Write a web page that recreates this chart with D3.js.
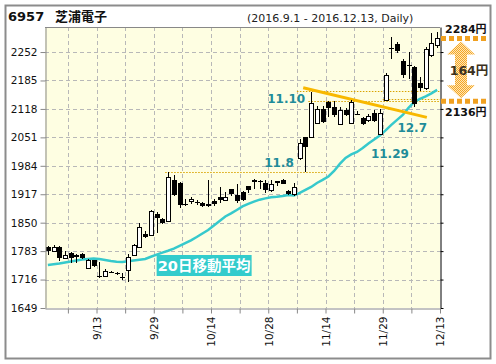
<!DOCTYPE html>
<html><head><meta charset="utf-8">
<script src="https://cdn.jsdelivr.net/npm/d3@7"></script>
<style>body{margin:0;background:#fff}svg{display:block}</style>
</head><body>
<svg id="c" width="496" height="364"></svg>
<script>
const dates = ["9/1","9/2","9/5","9/6","9/7","9/8","9/9","9/12","9/13","9/14","9/15","9/16","9/20","9/21","9/23","9/26","9/27","9/28","9/29","9/30",
"10/3","10/4","10/5","10/6","10/7","10/11","10/12","10/13","10/14","10/17","10/18","10/19","10/20","10/21","10/24","10/25","10/26","10/27","10/28","10/31",
"11/1","11/2","11/4","11/7","11/8","11/9","11/10","11/11","11/14","11/15","11/16","11/17","11/18","11/21","11/22","11/24","11/25","11/28","11/29","11/30",
"12/1","12/2","12/5","12/6","12/7","12/8","12/9","12/12","12/13"];
const opens  = [1792,1782,1792,1766,1779,1774,1776,1743,1762,1724,1725,1734,1732,1721,1740,1774,1795,1823,1821,1870,
1859,1854,1951,1943,1895,1901,1899,1896,1893,1900,1911,1903,1929,1915,1922,1936,1951,1949,1943,1927,
1948,1951,1925,1919,2003,2051,2053,2084,2117,2135,2122,2084,2115,2086,2106,2096,2092,2109,2060,2141,
2262,2270,2230,2222,2217,2178,2166,2245,2268];
const highs  = [1795,1797,1794,1784,1782,1776,1778,1764,1763,1758,1740,1737,1734,1732,1776,1800,1850,1830,1880,1876,
1861,1970,1962,1945,1906,1910,1903,1899,1951,1905,1935,1923,1930,1941,1924,1937,1952,1950,1951,1951,
1949,1952,1928,1943,2046,2053,2159,2125,2124,2137,2136,2123,2119,2140,2113,2100,2105,2115,2117,2202,
2287,2275,2235,2252,2220,2193,2264,2297,2300];
const lows   = [1775,1780,1760,1764,1756,1754,1764,1741,1745,1720,1724,1731,1726,1716,1711,1772,1793,1815,1819,1825,
1847,1852,1913,1884,1889,1895,1892,1886,1887,1889,1896,1900,1913,1897,1901,1920,1929,1929,1919,1922,
1937,1940,1916,1912,1998,1970,2050,2082,2084,2100,2098,2082,2102,2084,2105,2081,2088,2087,2058,2136,
2236,2250,2190,2189,2123,2160,2162,2240,2262];
const closes = [1782,1792,1766,1774,1767,1770,1766,1762,1749,1721,1736,1733,1731,1718,1770,1797,1841,1817,1878,1860,
1849,1958,1915,1892,1893,1905,1897,1888,1888,1892,1905,1910,1917,1900,1903,1927,1947,1948,1927,1941,
1944,1941,1919,1935,2038,2028,2133,2117,2086,2122,2104,2116,2104,2135,2105,2083,2101,2090,2109,2199,
2261,2254,2197,2220,2130,2166,2259,2274,2285];
const ma20 = [1750.3,1752,1753.9,1756.2,1758.6,1761,1763.3,1764.5,1765.7,1764.5,1762.1,1759.8,1758.1,1757.4,1759.1,1760.9,1762.8,1764.5,1769.7,1774.8,
1779.6,1784,1788.8,1795.1,1801.7,1808.5,1816.3,1824.6,1832.8,1843.4,1854,1864.6,1871.9,1880,1888.4,1894.1,1899.5,1904.2,1907.3,1909.7,
1911.1,1913,1915.3,1914.1,1920,1927.1,1934.2,1943.6,1950.7,1958.9,1971.9,1988.4,2002.5,2010.8,2016.6,2026.1,2036.7,2046.1,2055.5,2067.3,
2080.3,2092.1,2103.8,2120.3,2134.5,2141.5,2147.4,2154.5,2162.8];
const yTicks = [1649,1716,1783,1850,1917,1984,2051,2118,2185,2252];
const xTickLabels = ["9/13","9/29","10/14","10/28","11/14","11/29","12/13"];
const noteLabels = ["11.8","11.10","11.29","12.7"];
const noteDates  = ["11/8","11/10","11/29","12/7"];
const notePrices = [1981,2132,2002,2064];
const levelPrices = [1970,2160,2136,2141];
const levelFrom   = ["10/4","11/8","11/10","11/30"];
const levelTo     = ["11/14","12/13","12/13","12/13"];
const trendDates  = ["11/8","12/9"];
const trendPrices = [2168,2098];
const markPrices  = [2284,2136];
const markLabels  = ["2284円","2136円"];
const rangeLabel  = "164円";

const svg = d3.select("#c");
const L = 45, R = 440, T = 27, B = 308;
const n = dates.length;
const x = d3.scaleLinear().domain([-0.5, n - 0.5]).range([L, R]);
const y = d3.scaleLinear().domain([1649, 2311]).range([B, T]);
const idx = d => dates.indexOf(d);

// outer frame
svg.append("rect").attr("x",5.5).attr("y",5.5).attr("width",485).attr("height",353)
  .attr("fill","#fff").attr("stroke","#8c8c8c").attr("stroke-width",2);

// title
svg.append("text").attr("x",8).attr("y",21).attr("font-family","DejaVu Sans, Noto Sans CJK JP")
  .attr("font-weight","bold").attr("font-size",13).attr("fill","#111").text("6957");
svg.append("text").attr("x",55).attr("y",21).attr("font-family","Noto Sans CJK JP")
  .attr("font-weight","bold").attr("font-size",13).attr("fill","#111").text("芝浦電子");
svg.append("text").attr("x",247).attr("y",22).attr("font-family","DejaVu Sans")
  .attr("font-size",11).attr("fill","#222").text("(2016.9.1 - 2016.12.13, Daily)");

// plot background
svg.append("rect").attr("x",L).attr("y",T).attr("width",R-L).attr("height",B-T).attr("fill","#fefee2");

// grid
const grid = svg.append("g").attr("stroke","#b8b8b8").attr("stroke-dasharray","4,3").attr("shape-rendering","crispEdges");
yTicks.filter(v => v > 1649).forEach(v => {
  grid.append("line").attr("x1",L).attr("x2",R).attr("y1",Math.round(y(v))+0.5).attr("y2",Math.round(y(v))+0.5);
});
const gridIdx = d3.range(3, n, 5);
gridIdx.filter(i => i < n-1).forEach(i => {
  const gx = Math.round(x(i+0.5))+0.5;
  grid.append("line").attr("x1",gx).attr("x2",gx).attr("y1",T).attr("y2",B);
});

// reference dotted levels
const lv = svg.append("g").attr("stroke","#d9a300").attr("stroke-width",1).attr("stroke-dasharray","1.5,1.5");
levelPrices.forEach((p,k) => {
  const x1 = x(idx(levelFrom[k]) - 0.5), x2 = levelTo[k] === dates[n-1] ? R : x(idx(levelTo[k]) + 0.5);
  lv.append("line").attr("x1",x1).attr("x2",x2).attr("y1",Math.round(y(p))+0.5).attr("y2",Math.round(y(p))+0.5);
});

// MA line
svg.append("path").datum(ma20).attr("fill","none").attr("stroke","#36c9cc").attr("stroke-width",2.5)
  .attr("d", d3.line().x((d,i)=>x(i)).y(d=>y(d)));

// trend line
svg.append("line").attr("x1",x(idx(trendDates[0])+0.6)).attr("y1",y(trendPrices[0]))
  .attr("x2",x(idx(trendDates[1])+0.2)).attr("y2",y(trendPrices[1]))
  .attr("stroke","#f8b800").attr("stroke-width",3);

// candles
const cg = svg.append("g").attr("shape-rendering","crispEdges");
dates.forEach((d,i) => {
  const cx = Math.round(x(i));
  cg.append("line").attr("x1",cx+0.5).attr("x2",cx+0.5).attr("y1",y(highs[i])).attr("y2",y(lows[i]))
    .attr("stroke","#000").attr("stroke-width",1);
  const top = y(Math.max(opens[i],closes[i])), bot = y(Math.min(opens[i],closes[i]));
  const up = closes[i] > opens[i];
  const h = Math.max(1, bot - top);
  if (up) {
    cg.append("rect").attr("x",cx-1.5).attr("y",Math.round(top)+0.5).attr("width",4).attr("height",Math.max(1,Math.round(h)))
      .attr("fill","#fff").attr("stroke","#000").attr("stroke-width",1);
  } else {
    cg.append("rect").attr("x",cx-2).attr("y",Math.round(top)).attr("width",5).attr("height",Math.max(1,Math.round(h)))
      .attr("fill","#000");
  }
});

// axes
const axL = svg.append("g").attr("transform",`translate(${L+0.5},0)`)
  .call(d3.axisLeft(y).tickValues(yTicks).tickSize(5).tickSizeOuter(0).tickPadding(3).tickFormat(d3.format("d")));
axL.select(".domain").attr("stroke","#888");
axL.selectAll(".tick line").attr("stroke","#888");
axL.selectAll("text").attr("font-family","DejaVu Sans").attr("font-size",10.5).attr("fill","#111");

const axR = svg.append("g").attr("transform",`translate(${R+0.5},0)`)
  .call(d3.axisRight(y).tickValues(yTicks).tickSize(3).tickSizeOuter(0).tickFormat(""));
axR.select(".domain").attr("stroke","#000");
axR.selectAll(".tick line").attr("stroke","#000");

svg.append("line").attr("x1",L).attr("x2",R).attr("y1",T+0.5).attr("y2",T+0.5).attr("stroke","#888");

const axB = svg.append("g").attr("transform",`translate(0,${B+0.5})`)
  .call(d3.axisBottom(x).tickValues(gridIdx.map(i=>i+0.5)).tickSize(5).tickSizeOuter(0)
    .tickFormat(v => { const d = dates[Math.round(v-0.5)]; return xTickLabels.includes(d) ? d : ""; }));
axB.select(".domain").attr("stroke","#888");
axB.selectAll(".tick line").attr("stroke","#888");
axB.selectAll("text").attr("font-family","DejaVu Sans").attr("font-size",10.5).attr("fill","#111")
  .attr("text-anchor","end").attr("transform","rotate(-90)").attr("x",-8).attr("y",0).attr("dy","0.36em");

// MA label box
svg.append("rect").attr("x",x(idx("9/30"))).attr("y",255).attr("width",95).attr("height",21).attr("fill","#33cccc");
svg.append("text").attr("x",x(idx("9/30"))+47.5).attr("y",271).attr("text-anchor","middle")
  .attr("font-family","DejaVu Sans, Noto Sans CJK JP").attr("font-weight","bold").attr("font-size",14.5)
  .attr("fill","#fff").text("20日移動平均");

// date notes
const noteDx = [-6,-6,10,-2], noteAnchor = ["end","end","middle","middle"];
noteLabels.forEach((t,k) => {
  svg.append("text").attr("x",x(idx(noteDates[k]))+noteDx[k]).attr("y",y(notePrices[k]))
    .attr("text-anchor",noteAnchor[k]).attr("font-family","DejaVu Sans").attr("font-weight","bold")
    .attr("font-size",12).attr("fill","#1f8c99").text(t);
});

// right-side range annotation
const defs = svg.append("defs");
const pat = defs.append("pattern").attr("id","chk").attr("width",2).attr("height",2).attr("patternUnits","userSpaceOnUse");
pat.append("rect").attr("width",2).attr("height",2).attr("fill","#f5a623");
pat.append("rect").attr("x",1).attr("y",0).attr("width",1).attr("height",1).attr("fill","#fde6b8");
pat.append("rect").attr("x",0).attr("y",1).attr("width",1).attr("height",1).attr("fill","#fde6b8");

const yTop = y(markPrices[0]), yBot = y(markPrices[1]);
markPrices.forEach(p => {
  svg.append("line").attr("x1",R+1).attr("x2",486).attr("y1",y(p)).attr("y2",y(p))
    .attr("stroke","#f0a020").attr("stroke-width",5).attr("stroke-dasharray","5,3");
});
const ax0 = 461, hw = 14, sw = 6, hh = 13;
const a1 = yTop + 3, a2 = yBot - 3;
svg.append("path").attr("fill","url(#chk)").attr("d",
  `M${ax0},${a1} L${ax0+hw},${a1+hh} L${ax0+sw},${a1+hh} L${ax0+sw},${a2-hh} L${ax0+hw},${a2-hh} L${ax0},${a2} L${ax0-hw},${a2-hh} L${ax0-sw},${a2-hh} L${ax0-sw},${a1+hh} L${ax0-hw},${a1+hh} Z`);
svg.append("text").attr("x",469).attr("y",75).attr("text-anchor","middle")
  .attr("font-family","DejaVu Sans, Noto Sans CJK JP").attr("font-weight","bold").attr("font-size",12.5)
  .attr("fill","#3a3020").text(rangeLabel);
svg.append("text").attr("x",445).attr("y",33).attr("font-family","DejaVu Sans, Noto Sans CJK JP")
  .attr("font-weight","bold").attr("font-size",11).attr("fill","#111").text(markLabels[0]);
svg.append("text").attr("x",445).attr("y",116).attr("font-family","DejaVu Sans, Noto Sans CJK JP")
  .attr("font-weight","bold").attr("font-size",11).attr("fill","#111").text(markLabels[1]);
</script>
</body></html>
